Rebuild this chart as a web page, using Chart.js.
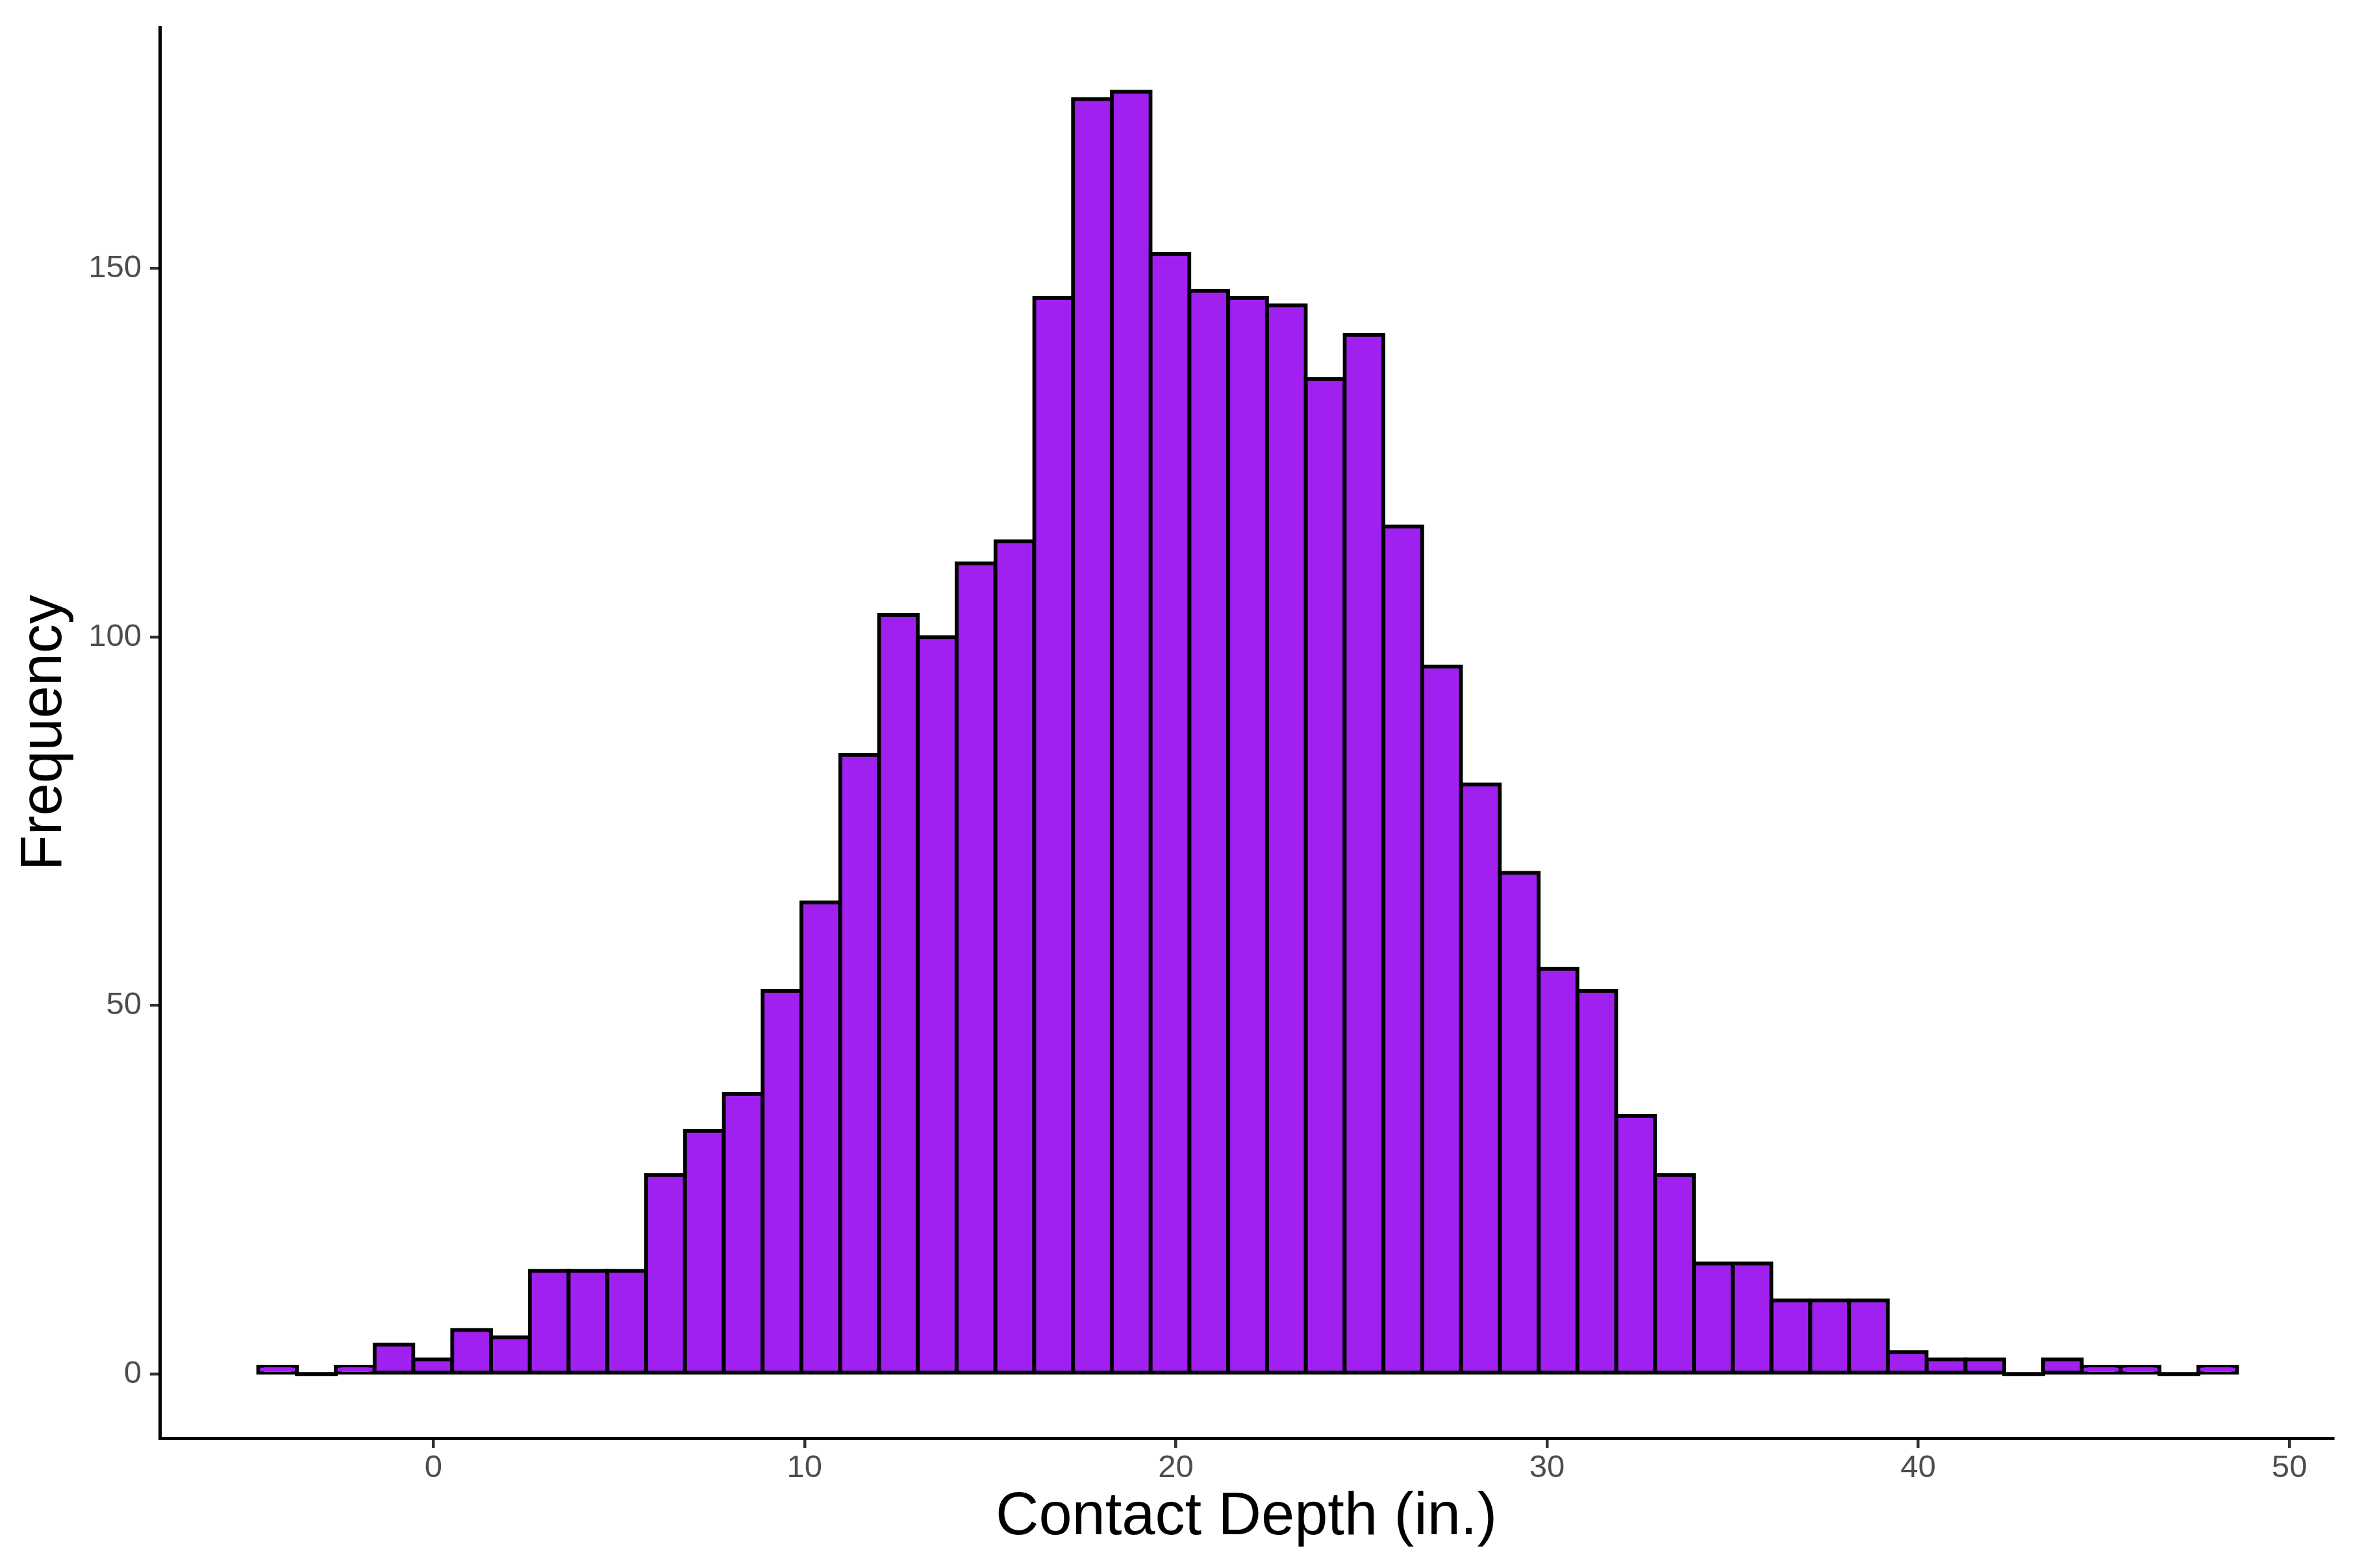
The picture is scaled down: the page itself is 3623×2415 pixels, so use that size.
<!DOCTYPE html>
<html>
<head>
<meta charset="utf-8">
<title>Contact Depth histogram</title>
<script src="https://cdn.jsdelivr.net/npm/chart.js@4/dist/chart.umd.min.js"></script>
<style>
  html, body { margin: 0; padding: 0; background: #ffffff; }
  #wrap { width: 3623px; height: 2415px; }
</style>
</head>
<body>
<div id="wrap"><canvas id="histChart" width="3623" height="2415"></canvas></div>
<script>
// bin edges of the histogram (inches)
const binEdges = [
  -4.720, -3.675, -2.629, -1.584, -0.539, 0.507, 1.552, 2.597, 3.642, 4.688,
  5.733, 6.778, 7.824, 8.869, 9.914, 10.960, 12.005, 13.050, 14.095, 15.141,
  16.186, 17.231, 18.277, 19.322, 20.367, 21.413, 22.458, 23.503, 24.548, 25.594,
  26.639, 27.684, 28.730, 29.775, 30.820, 31.866, 32.911, 33.956, 35.001, 36.047,
  37.092, 38.137, 39.183, 40.228, 41.273, 42.319, 43.364, 44.409, 45.454, 46.500,
  47.545, 48.590
];

// counts per bin
const counts = [
  1, 0, 1, 4, 2, 6, 5, 14, 14, 14,
  27, 33, 38, 52, 64, 84, 103, 100, 110, 113,
  146, 173, 174, 152, 147, 146, 145, 135, 141, 115,
  96, 80, 68, 55, 52, 35, 27, 15, 15, 10,
  10, 10, 3, 2, 2, 0, 2, 1, 1, 0,
  1
];

// axis ticks
const xTicks = [0, 10, 20, 30, 40, 50];
const yTicks = [0, 50, 100, 150];

const xTitle = 'Contact Depth (in.)';
const yTitle = 'Frequency';



// bar centres from the bin edges
const points = counts.map((c, i) => ({ x: (binEdges[i] + binEdges[i + 1]) / 2, y: c }));

const fontFamily = "'Liberation Sans', Arial, sans-serif";
const tickFont = { family: fontFamily, size: 49 };

// empty bins are drawn as a flat black outline, like ggplot does
const isEmpty = (ctx) => ctx.raw && ctx.raw.y === 0;

new Chart(document.getElementById('histChart'), {
  type: 'bar',
  data: {
    datasets: [{
      data: points,
      backgroundColor: (ctx) => (isEmpty(ctx) ? '#000000' : '#A020F0'),
      borderColor: '#000000',
      borderWidth: (ctx) => (isEmpty(ctx) ? 0 : 6),
      borderSkipped: false,
      inflateAmount: 3,
      barPercentage: 1,
      categoryPercentage: 1
    }]
  },
  options: {
    responsive: false,
    devicePixelRatio: 1,
    animation: false,
    layout: { padding: { left: 0, right: 31, top: 36, bottom: 0 } },
    plugins: {
      legend: { display: false },
      tooltip: { enabled: false }
    },
    scales: {
      x: {
        type: 'linear',
        offset: false,
        min: -7.37,
        max: 51.17,
        afterBuildTicks: (axis) => { axis.ticks = xTicks.map(v => ({ value: v })); },
        afterFit: (scale) => { scale.height = 200; },
        grid: {
          display: true,
          offset: false,
          drawOnChartArea: false,
          drawTicks: true,
          tickLength: 15,
          tickWidth: 4.5,
          tickColor: '#333333',
          lineWidth: 4.5,
          color: '#333333'
        },
        border: { display: true, color: '#000000', width: 5 },
        ticks: { color: '#4D4D4D', font: tickFont, padding: 2, maxRotation: 0 },
        title: {
          display: true,
          text: xTitle,
          color: '#000000',
          font: { family: fontFamily, size: 92 },
          padding: { top: 0, bottom: 22 }
        }
      },
      y: {
        type: 'linear',
        min: -8.7,
        max: 182.7,
        afterBuildTicks: (axis) => { axis.ticks = yTicks.map(v => ({ value: v })); },
        afterFit: (scale) => { scale.width = 246; },
        grid: {
          display: true,
          offset: false,
          drawOnChartArea: false,
          drawTicks: true,
          tickLength: 15,
          tickWidth: 4.5,
          tickColor: '#333333',
          lineWidth: 4.5,
          color: '#333333'
        },
        border: { display: true, color: '#000000', width: 5 },
        ticks: { color: '#4D4D4D', font: tickFont, padding: 13 },
        title: {
          display: true,
          text: yTitle,
          color: '#000000',
          font: { family: fontFamily, size: 90 },
          padding: { top: 15, bottom: 0 }
        }
      }
    }
  }
});
</script>
</body>
</html>
